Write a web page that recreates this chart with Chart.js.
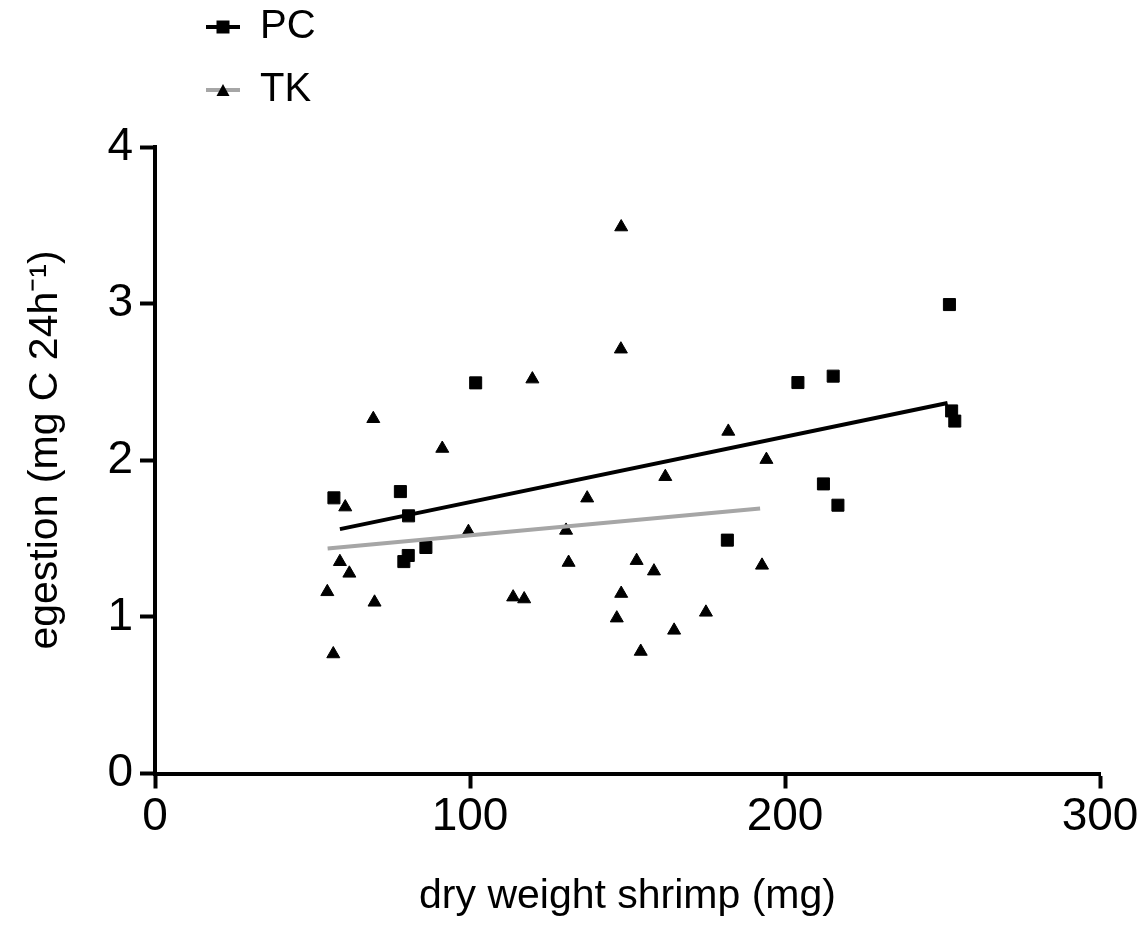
<!DOCTYPE html>
<html>
<head>
<meta charset="utf-8">
<script src="https://cdn.jsdelivr.net/npm/chart.js@4.4.1/dist/chart.umd.min.js"></script>
<style>
  html, body { margin: 0; padding: 0; background: #ffffff; }
  canvas { display: block; }
</style>
</head>
<body>
<canvas id="chart" width="1144" height="930"></canvas>
<script>
const FONT = "'Liberation Sans', Arial, Helvetica, sans-serif";

// PC: dry weight of shrimp (mg) vs egestion (mg C 24h-1)
const pcWeight   = [56.8, 77.9, 80.5, 79.0, 80.4, 86.0, 101.8, 181.7, 204.1, 215.3, 212.2, 216.8, 252.2, 252.9, 253.9];
const pcEgestion = [1.76, 1.80, 1.645, 1.353, 1.392, 1.443, 2.494, 1.49, 2.496, 2.537, 1.849, 1.713, 2.994, 2.315, 2.25];

// TK: dry weight of shrimp (mg) vs egestion (mg C 24h-1)
const tkWeight   = [54.7, 56.6, 58.7, 60.4, 61.7, 69.3, 69.7, 91.2, 99.5, 113.7, 117.2, 119.8, 130.5, 131.3,
                    137.2, 146.6, 148.0, 147.9, 148.0, 152.9, 154.2, 158.4, 162.0, 164.8, 174.9, 182.0, 192.7, 194.1];
const tkEgestion = [1.16, 0.763, 1.352, 1.701, 1.278, 2.265, 1.093, 2.075, 1.544, 1.126, 1.114, 2.518, 1.552, 1.347,
                    1.758, 0.992, 1.149, 2.709, 3.489, 1.359, 0.779, 1.292, 1.895, 0.914, 1.029, 2.184, 1.329, 2.004];

// Linear fits (end points of each regression line)
const pcFitWeight   = [58.7, 251.6];
const pcFitEgestion = [1.560, 2.366];
const tkFitWeight   = [54.8, 192.1];
const tkFitEgestion = [1.437, 1.692];

// Axis ticks
const xTicks = [0, 100, 200, 300];
const yTicks = [0, 1, 2, 3, 4];

const seriesNames = ['PC', 'TK'];
const PC_COLOR = '#000000';
const TK_LINE_COLOR = '#a6a6a6';

const toPoints = (xs, ys) => xs.map((x, i) => ({ x: x, y: ys[i] }));

// Legend keys: a short line with the series marker in its middle
function makeKey(lineColor, marker) {
  const c = document.createElement('canvas');
  c.width = 34; c.height = 14;
  const g = c.getContext('2d');
  g.fillStyle = lineColor;
  g.fillRect(0, 5, 34, 4);
  g.fillStyle = '#000000';
  if (marker === 'rect') {
    g.fillRect(10.5, 0.5, 13, 13);
  } else {
    g.beginPath();
    g.moveTo(17, 1);
    g.lineTo(23.5, 13);
    g.lineTo(10.5, 13);
    g.closePath();
    g.fill();
  }
  return c;
}
const pcKey = makeKey(PC_COLOR, 'rect');
const tkKey = makeKey(TK_LINE_COLOR, 'triangle');

// Places the legend above the plot, left of centre
const legendPlacement = {
  id: 'legendPlacement',
  afterLayout(chart) {
    const lg = chart.legend;
    if (!lg) return;
    const w = lg.width, h = lg.height;
    lg.left = 183;
    lg.top = -16;
    lg.right = lg.left + w;
    lg.bottom = lg.top + h;
  }
};

const axisCommon = {
  border: { display: true, color: '#000000', width: 4 },
  grid: {
    display: true,
    drawOnChartArea: false,
    drawTicks: true,
    tickLength: 15,
    tickWidth: 4,
    color: '#000000',
    tickColor: '#000000'
  }
};

new Chart(document.getElementById('chart'), {
  type: 'scatter',
  data: {
    datasets: [
      {
        label: 'PC fit',
        data: toPoints(pcFitWeight, pcFitEgestion),
        showLine: true,
        borderColor: PC_COLOR,
        borderWidth: 4,
        pointRadius: 0,
        fill: false
      },
      {
        label: 'TK fit',
        data: toPoints(tkFitWeight, tkFitEgestion),
        showLine: true,
        borderColor: TK_LINE_COLOR,
        borderWidth: 4,
        pointRadius: 0,
        fill: false
      },
      {
        label: seriesNames[0],
        data: toPoints(pcWeight, pcEgestion),
        pointStyle: 'rect',
        pointRadius: 8.5,
        pointBorderWidth: 1,
        backgroundColor: '#000000',
        borderColor: '#000000'
      },
      {
        label: seriesNames[1],
        data: toPoints(tkWeight, tkEgestion),
        pointStyle: 'triangle',
        pointRadius: 7.5,
        pointBorderWidth: 1,
        backgroundColor: '#000000',
        borderColor: '#000000'
      }
    ]
  },
  options: {
    responsive: false,
    animation: false,
    devicePixelRatio: 1,
    events: [],
    layout: { padding: { top: 147, right: 44, bottom: 0, left: 0 } },
    plugins: {
      tooltip: { enabled: false },
      legend: {
        display: true,
        position: 'chartArea',
        align: 'start',
        labels: {
          usePointStyle: true,
          pointStyleWidth: 34,
          padding: 23,
          color: '#000000',
          font: { family: FONT, size: 40 },
          generateLabels: () => [
            { text: seriesNames[0], pointStyle: pcKey, fillStyle: '#000', strokeStyle: '#000', lineWidth: 0, hidden: false, datasetIndex: 2 },
            { text: seriesNames[1], pointStyle: tkKey, fillStyle: '#000', strokeStyle: '#000', lineWidth: 0, hidden: false, datasetIndex: 3 }
          ]
        }
      }
    },
    scales: {
      x: {
        type: 'linear',
        position: 'bottom',
        min: xTicks[0],
        max: xTicks[xTicks.length - 1],
        ...axisCommon,
        afterBuildTicks: (scale) => { scale.ticks = xTicks.map(v => ({ value: v })); },
        afterFit: (scale) => { scale.height = 156.5; },
        ticks: {
          color: '#000000',
          font: { family: FONT, size: 46 },
          padding: 1,
          maxRotation: 0,
          autoSkip: false
        },
        title: {
          display: true,
          text: 'dry weight shrimp (mg)',
          color: '#000000',
          font: { family: FONT, size: 41 },
          padding: { top: 0, bottom: 9 }
        }
      },
      y: {
        type: 'linear',
        position: 'left',
        min: yTicks[0],
        max: yTicks[yTicks.length - 1],
        ...axisCommon,
        afterBuildTicks: (scale) => { scale.ticks = yTicks.map(v => ({ value: v })); },
        afterFit: (scale) => { scale.width = 155; },
        ticks: {
          color: '#000000',
          font: { family: FONT, size: 46 },
          padding: 7,
          autoSkip: false
        },
        title: {
          display: true,
          text: '\u2002egestion (mg C 24h\u207B\u00B9)',
          color: '#000000',
          font: { family: FONT, size: 41 },
          padding: { top: 21, bottom: 0 }
        }
      }
    }
  },
  plugins: [legendPlacement]
});
</script>
</body>
</html>
